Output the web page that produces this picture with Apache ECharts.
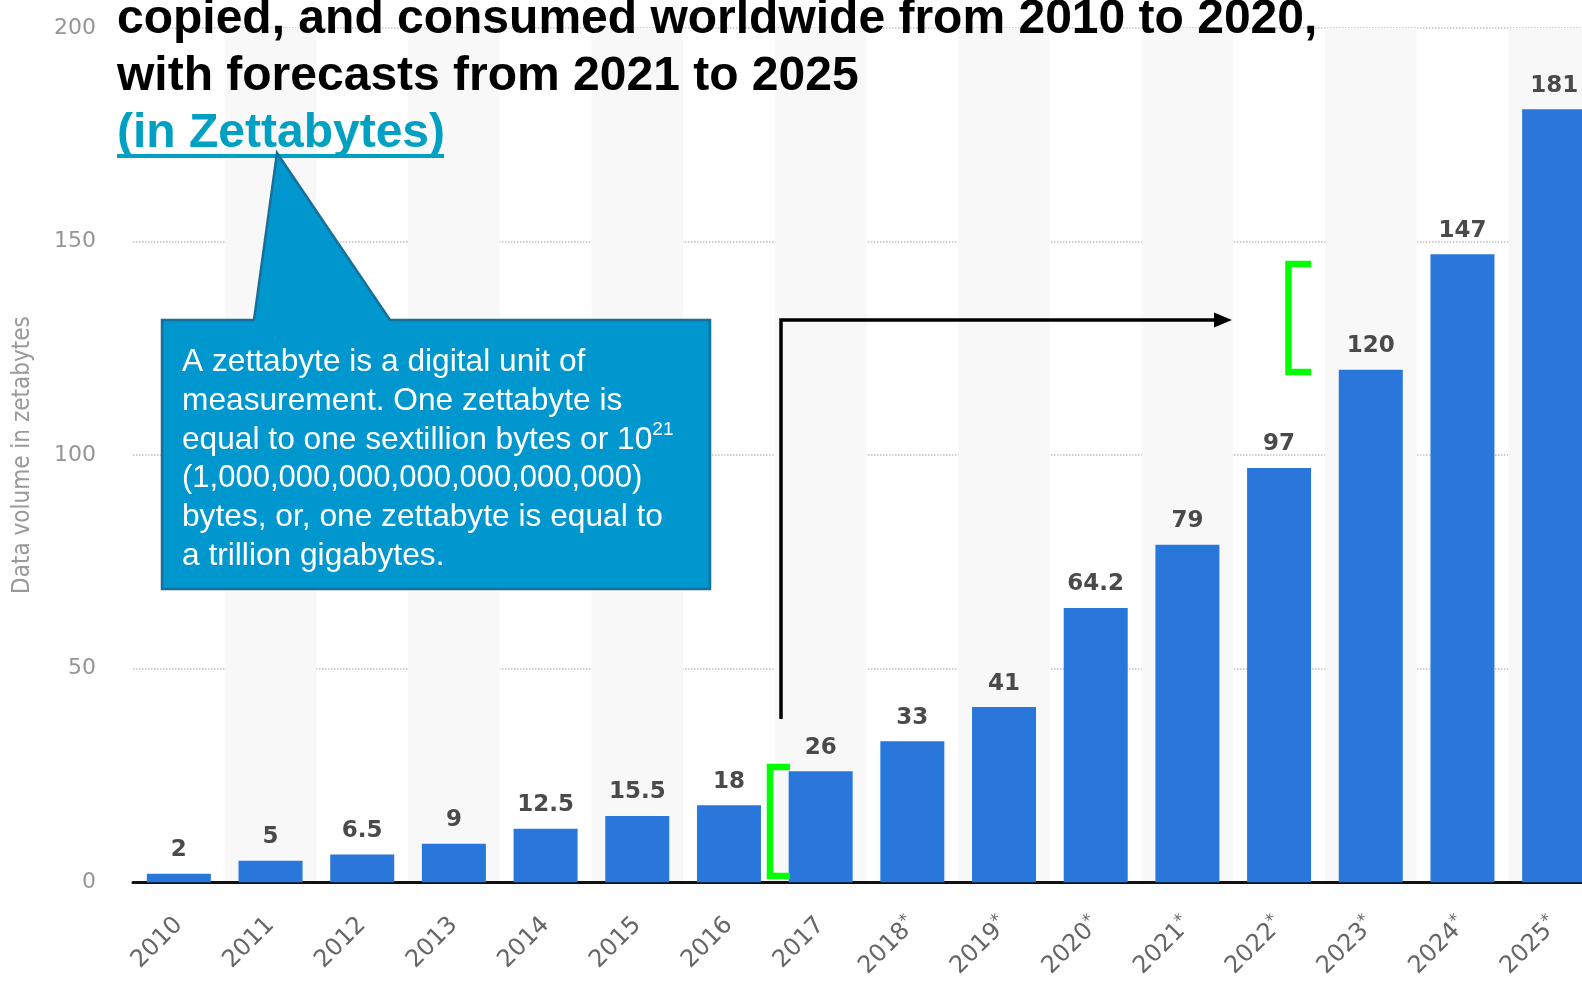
<!DOCTYPE html>
<html>
<head>
<meta charset="utf-8">
<script src="https://cdn.jsdelivr.net/npm/echarts@6/dist/echarts.min.js"></script>
<style>
html,body{margin:0;padding:0;background:#fff;overflow:hidden;width:1582px;height:981px;}
#chart{width:1600px;height:981px;}
</style>
</head>
<body>
<div id="chart"></div>
<script>
const categories = ['2010','2011','2012','2013','2014','2015','2016','2017','2018*','2019*','2020*','2021*','2022*','2023*','2024*','2025*'];
const values = [2, 5, 6.5, 9, 12.5, 15.5, 18, 26, 33, 41, 64.2, 79, 97, 120, 147, 181];
const yMin = 0, yMax = 200, yStep = 50;
const yAxisTitle = 'Data volume in zetabytes';
const titleLines = ['copied, and consumed worldwide from 2010 to 2020,', 'with forecasts from 2021 to 2025'];
const unitText = '(in Zettabytes)';
const noteLines = ['A zettabyte is a digital unit of', 'measurement. One zettabyte is', 'equal to one sextillion bytes or 10{sup|21}', '{num|(1,000,000,000,000,000,000,000)}', 'bytes, or, one zettabyte is equal to', 'a trillion gigabytes.'];

const chart = echarts.init(document.getElementById('chart'), null, {renderer: 'canvas'});

const titleFont = 'Liberation Sans, Arial, sans-serif';
const green = '#00ff00';

const option = {
  animation: false,
  backgroundColor: '#ffffff',
  grid: {left: 133, top: 28, right: 0, bottom: 98, containLabel: false},
  xAxis: {
    type: 'category',
    data: categories,
    axisLine: {lineStyle: {color: '#111111', width: 3}},
    axisTick: {show: false},
    axisLabel: {
      interval: 0,
      rotate: 45,
      margin: 39,
      formatter: function (v) {
        return v.endsWith('*') ? '{a|' + v.slice(0, -1) + '}{s|*}' : '{a|' + v + '}';
      },
      rich: {
        a: {fontFamily: 'DejaVu Sans', fontSize: 24, color: '#666666', lineHeight: 28},
        s: {fontFamily: 'DejaVu Sans', fontSize: 17, color: '#666666', lineHeight: 16, verticalAlign: 'top'}
      }
    },
    splitArea: {show: true, areaStyle: {color: ['rgba(255,255,255,0)', '#f8f8f8']}},
    splitLine: {show: false}
  },
  yAxis: {
    type: 'value',
    min: yMin, max: yMax, interval: yStep,
    name: yAxisTitle,
    nameLocation: 'middle',
    nameGap: 98,
    nameTextStyle: {fontFamily: 'DejaVu Sans Condensed', fontSize: 24, color: '#9a9a9a'},
    axisLine: {show: false},
    axisTick: {show: false},
    axisLabel: {margin: 37, color: '#959595', fontSize: 22, fontFamily: 'DejaVu Sans'},
    splitLine: {lineStyle: {type: 'dotted', color: '#c0c0c0', width: 1.5}}
  },
  series: [{
    type: 'bar',
    data: values,
    barWidth: 64,
    itemStyle: {color: '#2a77db'},
    label: {
      show: true, position: 'top', distance: 12,
      fontFamily: 'DejaVu Sans', fontWeight: 'bold', fontSize: 23, color: '#4a4a4a'
    }
  }],
  graphic: [
    // title lines
    {type: 'text', z: 100, style: {text: titleLines[0], x: 117, y: 19.6, font: 'bold 48px ' + titleFont, fill: '#000', align: 'left', verticalAlign: 'middle', textAlign: 'left', textVerticalAlign: 'middle'}},
    {type: 'text', z: 100, style: {text: titleLines[1], x: 117, y: 76.6, font: 'bold 48px ' + titleFont, fill: '#000', align: 'left', verticalAlign: 'middle', textAlign: 'left', textVerticalAlign: 'middle'}},
    {type: 'text', z: 100, style: {text: unitText, x: 117, y: 133.6, font: 'bold 48px ' + titleFont, fill: '#00a0c3', align: 'left', verticalAlign: 'middle', textAlign: 'left', textVerticalAlign: 'middle'}},
    {type: 'rect', z: 100, shape: {x: 117, y: 154, width: 327, height: 4}, style: {fill: '#00a0c3'}},
    // callout
    {type: 'polygon', z: 101, shape: {points: [[162, 320], [254, 320], [277, 153], [390, 320], [710, 320], [710, 589], [162, 589]]}, style: {fill: '#0097cf', stroke: '#17709c', lineWidth: 2.5, lineJoin: 'miter'}},
    {type: 'text', z: 102, style: {
      text: noteLines.join('\n'), x: 182, y: 343,
      fontFamily: titleFont, fontSize: 31.7, lineHeight: 38.8, fill: '#ffffff',
      align: 'left', verticalAlign: 'top', textAlign: 'left', textVerticalAlign: 'top',
      rich: {
        sup: {fontFamily: titleFont, fontSize: 19, lineHeight: 30, verticalAlign: 'top', fill: '#ffffff'},
        num: {fontFamily: titleFont, fontSize: 31, lineHeight: 38.8, fill: '#ffffff'}
      }
    }},
    // black arrow
    {type: 'polyline', z: 100, shape: {points: [[781, 719], [781, 320], [1216, 320]]}, style: {stroke: '#000', lineWidth: 3.5, fill: null}},
    {type: 'polygon', z: 100, shape: {points: [[1214, 312.5], [1232, 320], [1214, 327.5]]}, style: {fill: '#000'}},
    // green brackets
    {type: 'polyline', z: 100, shape: {points: [[790, 767], [770, 767], [770, 876], [790, 876]]}, style: {stroke: green, lineWidth: 6.5, fill: null, lineJoin: 'miter'}},
    {type: 'polyline', z: 100, shape: {points: [[1311, 264], [1288.5, 264], [1288.5, 372], [1311, 372]]}, style: {stroke: green, lineWidth: 6.5, fill: null, lineJoin: 'miter'}}
  ]
};
chart.setOption(option);
</script>
</body>
</html>
